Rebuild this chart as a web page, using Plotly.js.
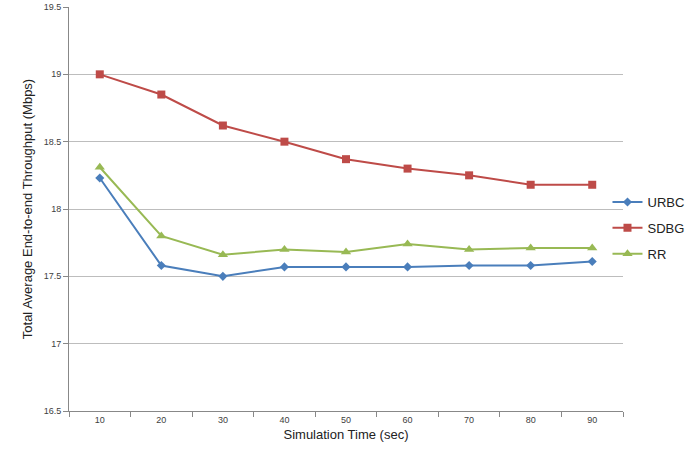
<!DOCTYPE html>
<html>
<head>
<meta charset="utf-8">
<script src="https://cdn.plot.ly/plotly-3.0.1.min.js"></script>
<style>html,body{margin:0;padding:0;background:#fff;}#chart{width:685px;height:451px;}</style>
</head>
<body>
<div id="chart"></div>
<script>
const categories = ["10", "20", "30", "40", "50", "60", "70", "80", "90"];
const urbc = [18.23, 17.58, 17.50, 17.57, 17.57, 17.57, 17.58, 17.58, 17.61];
const sdbg = [19.00, 18.85, 18.62, 18.50, 18.37, 18.30, 18.25, 18.18, 18.18];
const rr   = [18.31, 17.80, 17.66, 17.70, 17.68, 17.74, 17.70, 17.71, 17.71];
const yTicks = [16.5, 17, 17.5, 18, 18.5, 19, 19.5];

const font = "Liberation Sans, Arial, sans-serif";
const traces = [
  {name: "URBC", x: categories, y: urbc, type: "scatter", mode: "lines+markers",
   line: {color: "#4a7ebb", width: 2}, marker: {symbol: "diamond", size: 7, color: "#4a7ebb"}, legendgroup: "a"},
  {name: "SDBG", x: categories, y: sdbg, type: "scatter", mode: "lines+markers",
   line: {color: "#be4b48", width: 2}, marker: {symbol: "square", size: 8, color: "#be4b48"}, legendgroup: "b"},
  {name: "RR", x: categories, y: rr, type: "scatter", mode: "lines+markers",
   line: {color: "#98b954", width: 2}, marker: {symbol: "triangle-up", size: 9, color: "#98b954"}, legendgroup: "c"}
];
const layout = {
  width: 685, height: 451,
  margin: {l: 69, r: 62, t: 7, b: 40, autoexpand: false},
  paper_bgcolor: "#fff", plot_bgcolor: "#fff",
  font: {family: font, color: "#404040"},
  showlegend: true,
  legend: {x: 0.972, xanchor: "left", y: 0.453, yanchor: "middle", font: {size: 13, color: "#222"},
           tracegroupgap: 6, itemwidth: 30, bgcolor: "rgba(0,0,0,0)"},
  xaxis: {type: "category", range: [-0.5, 8.5], showgrid: false, showline: true, linecolor: "#888",
          ticks: "outside", tickson: "boundaries", ticklen: 5, tickcolor: "#888",
          tickfont: {size: 9, color: "#404040"}, fixedrange: true,
          title: {text: "Simulation Time (sec)", font: {size: 13, color: "#222"}, standoff: 6}},
  yaxis: {range: [16.5, 19.5], tickvals: yTicks, showgrid: true, gridcolor: "#bdbdbd", showline: true,
          linecolor: "#888", ticks: "outside", ticklen: 5, tickcolor: "#888", zeroline: false,
          tickfont: {size: 9, color: "#404040"},
          title: {text: "Total Average End-to-end Throughput (Mbps)", font: {size: 13, color: "#222"}, standoff: 8}}
};
Plotly.newPlot("chart", traces, layout, {displayModeBar: false, staticPlot: true});
</script>
</body>
</html>
